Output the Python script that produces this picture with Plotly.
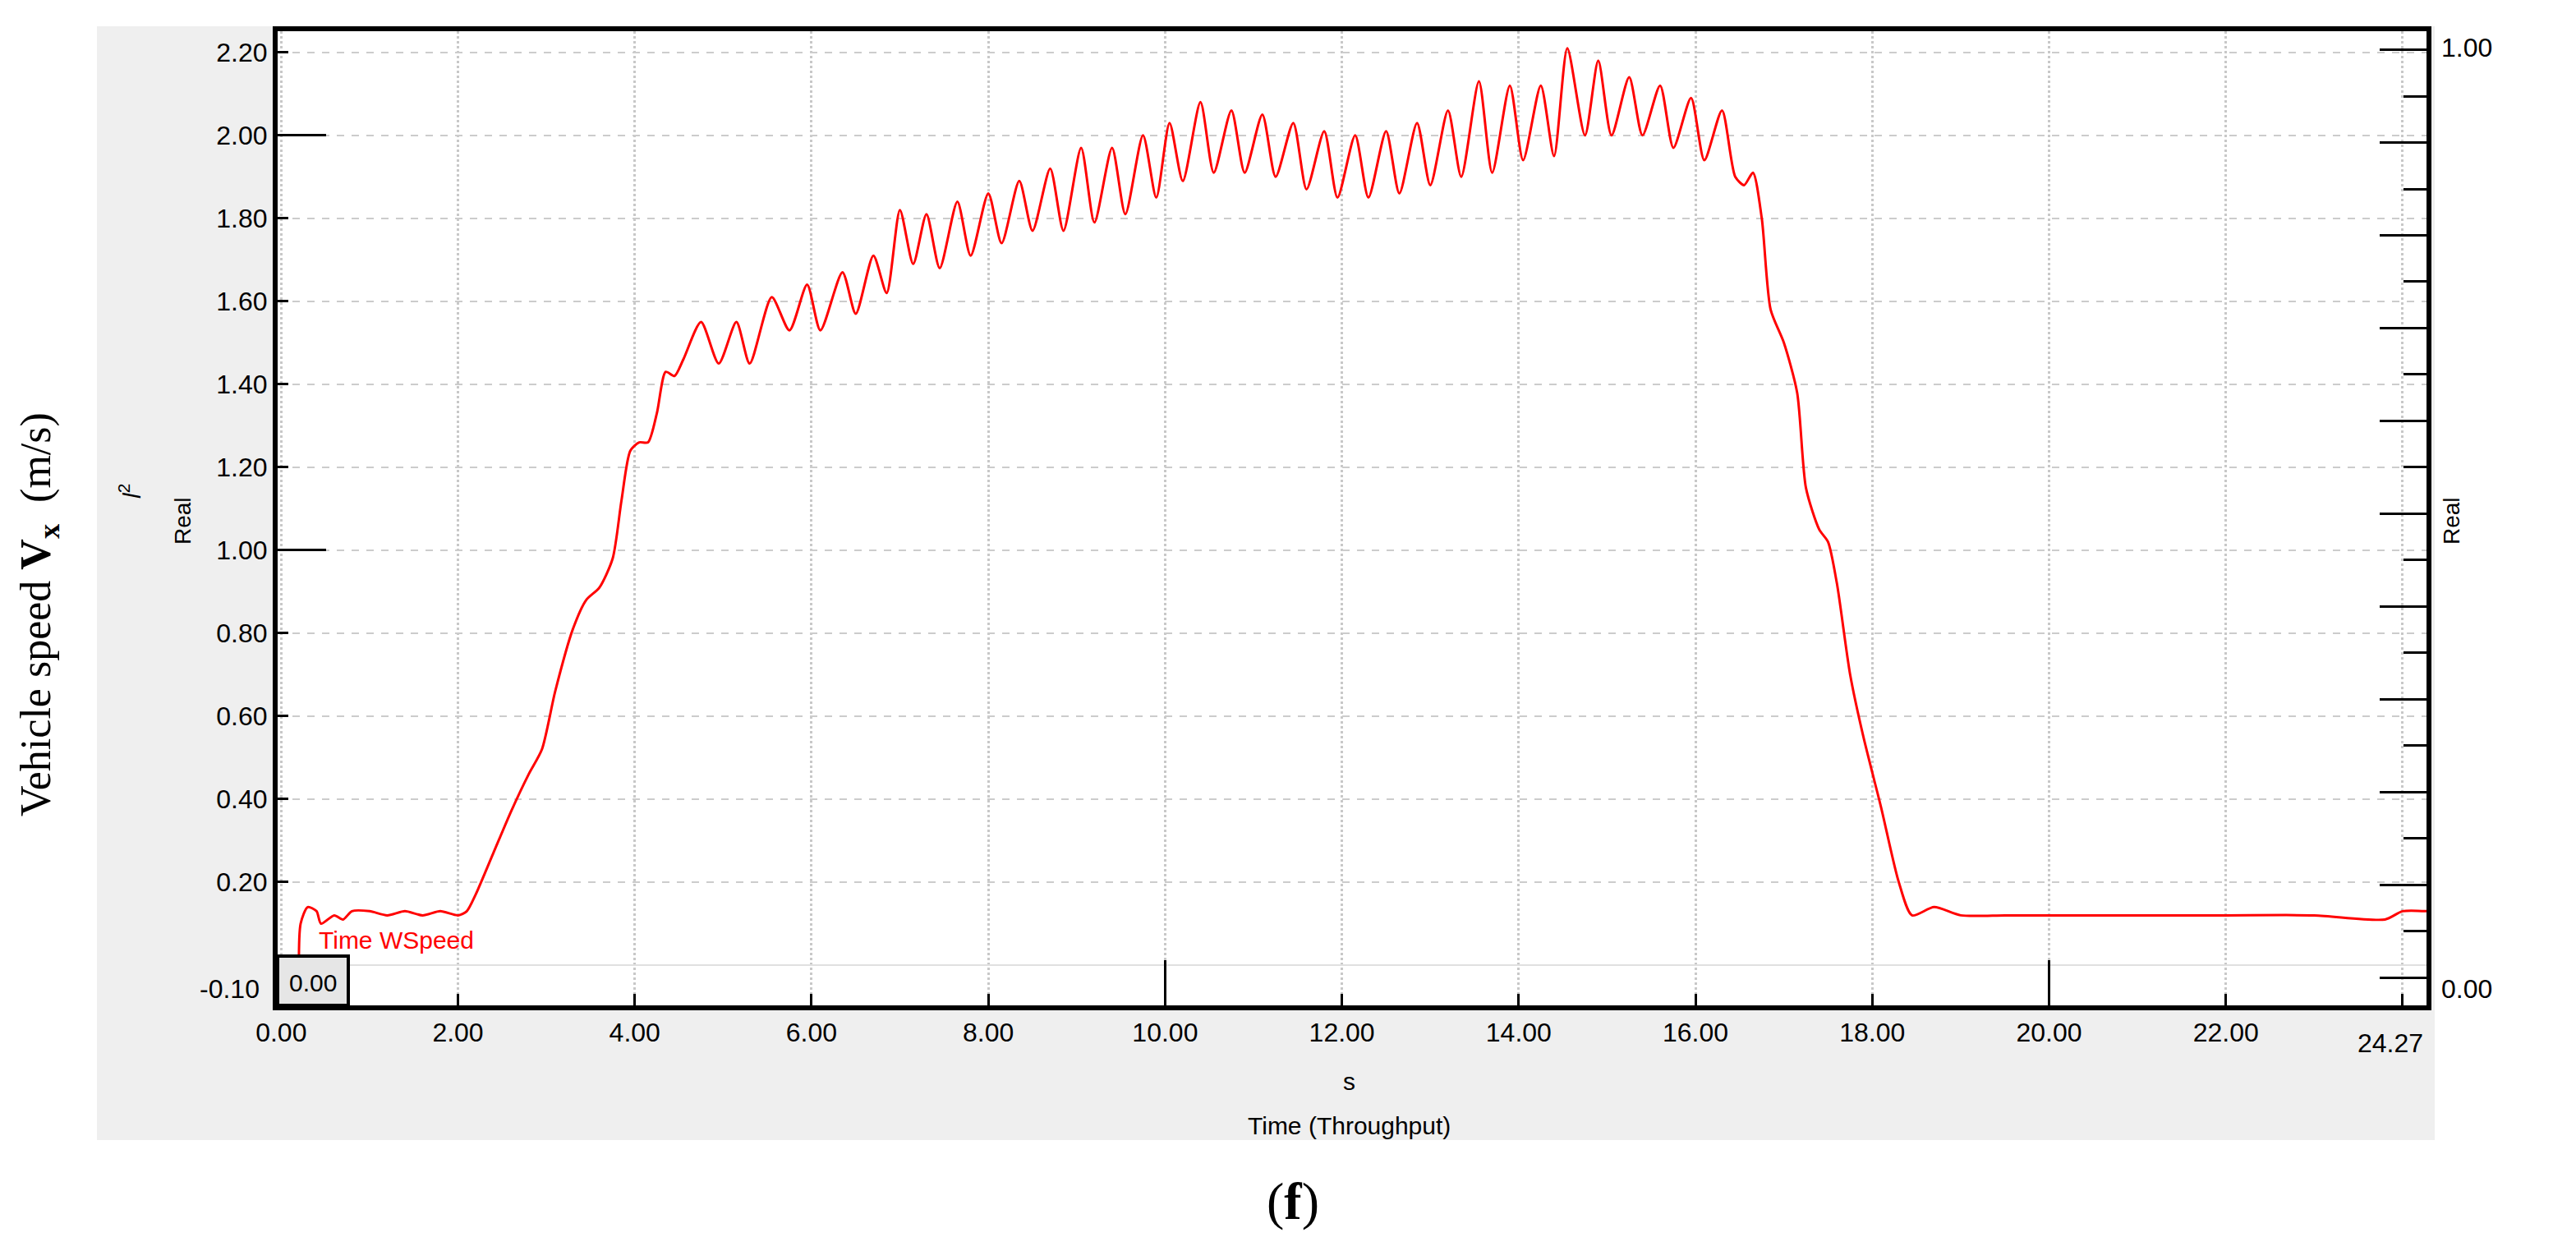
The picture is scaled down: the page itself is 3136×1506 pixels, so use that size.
import plotly.graph_objects as go

time_s = [0.20, 0.22, 0.30, 0.40, 0.45, 0.60, 0.70, 0.80, 1.00, 1.20, 1.40, 1.60, 1.80, 2.00, 2.10, 2.20,
          2.40, 2.60, 2.80, 2.95, 3.10, 3.30, 3.45, 3.60, 3.75, 3.85, 3.95, 4.05, 4.15, 4.25, 4.35, 4.45,
          4.55, 4.75, 4.95, 5.15, 5.30, 5.55, 5.75, 5.95, 6.10, 6.35, 6.50, 6.70, 6.85, 7.00, 7.15, 7.30,
          7.45, 7.65, 7.80, 8.00, 8.15, 8.35, 8.50, 8.70, 8.85, 9.05, 9.20, 9.40, 9.55, 9.75, 9.90, 10.05,
          10.20, 10.40, 10.55, 10.75, 10.90, 11.10, 11.25, 11.45, 11.60, 11.80, 11.95, 12.15, 12.30, 12.50,
          12.65, 12.85, 13.00, 13.20, 13.35, 13.55, 13.70, 13.90, 14.05, 14.25, 14.40, 14.55, 14.75, 14.90,
          15.05, 15.25, 15.40, 15.60, 15.75, 15.95, 16.10, 16.30, 16.45, 16.55, 16.65, 16.75, 16.85, 17.00,
          17.15, 17.25, 17.40, 17.50, 17.60, 17.75, 17.90, 18.10, 18.30, 18.45, 18.70, 19.00, 19.50, 20.00,
          21.00, 22.00, 23.00, 23.80, 24.00, 24.27]
speed = [0.00, 0.10, 0.14, 0.13, 0.10, 0.12, 0.11, 0.13, 0.13, 0.12, 0.13, 0.12, 0.13, 0.12, 0.13, 0.17,
         0.27, 0.37, 0.46, 0.52, 0.66, 0.81, 0.88, 0.91, 0.98, 1.12, 1.24, 1.26, 1.26, 1.33, 1.43, 1.42,
         1.46, 1.55, 1.45, 1.55, 1.45, 1.61, 1.53, 1.64, 1.53, 1.67, 1.57, 1.71, 1.62, 1.82, 1.69, 1.81,
         1.68, 1.84, 1.71, 1.86, 1.74, 1.89, 1.77, 1.92, 1.77, 1.97, 1.79, 1.97, 1.81, 2.00, 1.85, 2.03,
         1.89, 2.08, 1.91, 2.06, 1.91, 2.05, 1.90, 2.03, 1.87, 2.01, 1.85, 2.00, 1.85, 2.01,
         1.86, 2.03, 1.88, 2.06, 1.90, 2.13, 1.91, 2.12, 1.94, 2.12, 1.95, 2.21, 2.00, 2.18,
         2.00, 2.14, 2.00, 2.12, 1.97, 2.09, 1.94, 2.06, 1.90, 1.88, 1.91, 1.80, 1.58, 1.50,
         1.38, 1.15, 1.05, 1.02, 0.92, 0.70, 0.55, 0.38, 0.20, 0.12, 0.14, 0.12, 0.12, 0.12,
         0.12, 0.12, 0.12, 0.11, 0.13, 0.13]

y_ticks = [0.2, 0.4, 0.6, 0.8, 1.0, 1.2, 1.4, 1.6, 1.8, 2.0, 2.2]
y_labels = ["0.20", "0.40", "0.60", "0.80", "1.00", "1.20", "1.40", "1.60", "1.80", "2.00", "2.20"]
x_ticks = [0, 2, 4, 6, 8, 10, 12, 14, 16, 18, 20, 22, 24]
x_labels = ["0.00", "2.00", "4.00", "6.00", "8.00", "10.00", "12.00", "14.00", "16.00", "18.00", "20.00", "22.00", ""]

W, H = 3136, 1506
L, R, T, B = 330, 2946, 30, 1216
def px(X): return (X - L) / (R - L)
def py(Y): return (B - Y) / (B - T)

fig = go.Figure()
fig.add_trace(go.Scatter(x=time_s, y=speed, mode="lines",
                         line=dict(color="#ff0000", width=3, shape="spline", smoothing=0.7), showlegend=False))
fig.add_trace(go.Scatter(x=[0], y=[0], xaxis="x2", yaxis="y2", mode="markers", marker=dict(opacity=0), showlegend=False))
fig.add_trace(go.Scatter(x=[0], y=[0], xaxis="x", yaxis="y3", mode="markers", marker=dict(opacity=0), showlegend=False))

tickfont = dict(family="Liberation Sans", size=32, color="black")
fig.update_layout(
    width=W, height=H, paper_bgcolor="white", plot_bgcolor="white",
    margin=dict(l=L, r=W - R, t=T, b=H - B),
    xaxis=dict(range=[-0.04, 24.27], tickvals=x_ticks, ticktext=x_labels, ticks="inside", ticklen=14,
               tickwidth=3, tickcolor="black", tickfont=tickfont, showgrid=True, gridcolor="#c8c8c8",
               griddash="dot", gridwidth=3, zeroline=False, showline=True, linecolor="black", linewidth=6,
               mirror=True),
    yaxis=dict(range=[-0.097, 2.251], tickvals=y_ticks, ticktext=y_labels, ticks="inside", ticklen=13,
               tickwidth=3, tickcolor="black", tickfont=tickfont, showgrid=True, gridcolor="#cccccc",
               griddash="dash", gridwidth=2, zeroline=True, zerolinecolor="#e0e0e0", zerolinewidth=2,
               showline=True, linecolor="black", linewidth=6, mirror=True),
    xaxis2=dict(overlaying="x", range=[-0.04, 24.27], tickvals=[10, 20], ticks="inside", ticklen=55,
                tickwidth=3, tickcolor="black", showticklabels=False, showgrid=False, zeroline=False),
    yaxis3=dict(overlaying="y", range=[-0.097, 2.251], tickvals=[1, 2], ticks="inside", ticklen=59,
                tickwidth=3, tickcolor="black", showticklabels=False, showgrid=False, zeroline=False),
    yaxis2=dict(overlaying="y", side="right", range=[-0.03, 1.02], dtick=0.1, tick0=0, ticks="inside",
                ticklen=57, tickwidth=3, tickcolor="black", showticklabels=False, showgrid=False,
                zeroline=False, minor=dict(dtick=0.05, ticks="inside", ticklen=28, tickwidth=3,
                                           tickcolor="black", showgrid=False)),
)

fig.add_shape(type="rect", xref="paper", yref="paper", x0=px(110), x1=px(2956), y0=py(1380), y1=py(24),
              fillcolor="#efefef", line=dict(width=0), layer="below")
fig.add_shape(type="rect", xref="paper", yref="paper", x0=0, x1=1, y0=0, y1=1,
              fillcolor="white", line=dict(width=0), layer="below")
fig.add_shape(type="rect", xref="paper", yref="paper", x0=px(330), x1=px(416), y0=py(1216), y1=py(1156),
              fillcolor="#e6e6e6", line=dict(color="black", width=4))

def ann(text, X, Y, size=30, color="black", family="Liberation Sans", angle=0, xanchor="center"):
    fig.add_annotation(text=text, xref="paper", yref="paper", x=px(X), y=py(Y), showarrow=False,
                       font=dict(family=family, size=size, color=color), textangle=angle,
                       xanchor=xanchor, yanchor="middle")

ann("0.00", 373, 1188, size=30)
ann("-0.10", 310, 1196, size=32, xanchor="right")
ann("24.27", 2944, 1262, size=32, xanchor="right")
ann("1.00", 2962, 50, size=32, xanchor="left")
ann("0.00", 2962, 1196, size=32, xanchor="left")
ann("Real", 214, 626, size=28, angle=-90)
ann("Real", 2976, 626, size=28, angle=-90)
ann("<i>l</i><sup>2</sup>", 150, 590, size=30, angle=-90)
ann("Time WSpeed", 474, 1136, size=30, color="#ff0000")
ann("s", 1634, 1308, size=30)
ann("Time (Throughput)", 1634, 1362, size=30)
ann("Vehicle speed <b>V<sub>x</sub></b>  (m/s)", 40, 740, size=52, family="Liberation Serif", angle=-90)
ann("(<b>f</b>)", 1566, 1454, size=64, family="Liberation Serif")

fig.write_html("out.html")
